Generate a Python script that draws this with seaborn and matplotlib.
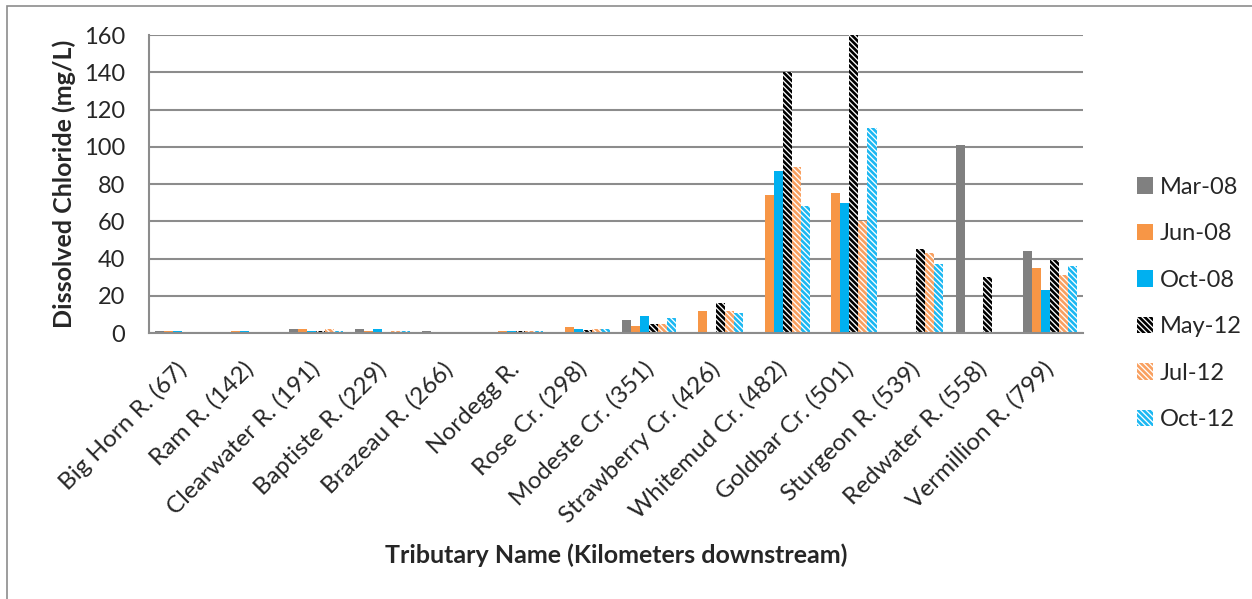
import numpy as np
import pandas as pd
import matplotlib
matplotlib.use("Agg")
import matplotlib.pyplot as plt
import matplotlib.transforms as mtransforms
from matplotlib.patches import Patch, Rectangle
import seaborn as sns

tributaries = ["Big Horn R. (67)", "Ram R. (142)", "Clearwater R. (191)",
               "Baptiste R. (229)", "Brazeau R. (266)", "Nordegg R.",
               "Rose Cr. (298)", "Modeste Cr. (351)", "Strawberry Cr. (426)",
               "Whitemud Cr. (482)", "Goldbar Cr. (501)", "Sturgeon R. (539)",
               "Redwater R. (558)", "Vermillion R. (799)"]
nan = np.nan
mar_08 = [1, 0.8, 2, 2, 1, nan, nan, 7, nan, nan, nan, nan, 101, 44]
jun_08 = [1, 1, 2, 1, nan, 1, 3, 4, 12, 74, 75, nan, nan, 35]
oct_08 = [1, 1, 1, 2, nan, 1, 2, 9, nan, 87, 70, nan, nan, 23]
may_12 = [0.8, 0.8, 1, 0.5, 0.5, 1, 1.5, 5, 16, 140, 160, 45, 30, 39]
jul_12 = [0.8, 0.8, 2, 1, 0.5, 1, 2, 5, 12, 89, 60, 43, nan, 31]
oct_12 = [0.6, 0.8, 1, 1.3, 0.5, 1, 2, 8, 11, 68, 110, 37, nan, 36]
dates = ["Mar-08", "Jun-08", "Oct-08", "May-12", "Jul-12", "Oct-12"]

series = [mar_08, jun_08, oct_08, may_12, jul_12, oct_12]
df = pd.DataFrame({"Tributary": np.repeat([tributaries], len(dates), axis=0).ravel(),
                   "Date": np.repeat(dates, len(tributaries)),
                   "Chloride": np.concatenate(series)})
df = df.dropna()

# bar styles: (face, hatch colour, hatch)
hatch = "\\" * 6
styles = {
    "Mar-08": ("#808080", "#808080", None),
    "Jun-08": ("#F79646", "#F79646", None),
    "Oct-08": ("#00B0F0", "#00B0F0", None),
    "May-12": ("white", "black", hatch),
    "Jul-12": ("white", "#F9A060", hatch),
    "Oct-12": ("white", "#1CB8F2", hatch),
}

plt.rcParams["hatch.linewidth"] = 1.9
sns.set_style("white")
plt.rcParams["font.family"] = ["Lato", "DejaVu Sans"]

fig = plt.figure(figsize=(12.52, 5.99), dpi=100)
ax = fig.add_axes([0.119, 0.444, 0.746, 0.4975])

sns.barplot(data=df, x="Tributary", y="Chloride", hue="Date",
            order=tributaries, hue_order=dates, width=0.81,
            palette=[styles[d][0] for d in dates], saturation=1,
            legend=False, ax=ax)

for cont, d in zip(ax.containers, dates):
    face, hcol, h = styles[d]
    for bar in cont:
        bar.set_facecolor(face)
        bar.set_edgecolor(hcol)
        bar.set_linewidth(0)
        if h:
            bar.set_hatch(h)

grid_col = "#8C8C8C"
ax.set_ylim(0, 160)
ax.set_yticks(np.arange(0, 161, 20))
ax.set_xlim(-0.5, len(tributaries) - 0.5)
ax.yaxis.grid(True, color=grid_col, linewidth=1.5)
ax.set_axisbelow(True)
for s in ["top", "right"]:
    ax.spines[s].set_visible(False)
for s in ["left", "bottom"]:
    ax.spines[s].set_color(grid_col)
    ax.spines[s].set_linewidth(1.5)

ax.set_xticks(np.arange(-0.5, len(tributaries)), minor=True)
ax.tick_params(axis="x", which="major", length=0, pad=0, labelsize=17.5)
ax.tick_params(axis="x", which="minor", length=7, width=1.5, color=grid_col, direction="out")
ax.tick_params(axis="y", length=5, width=1.5, color=grid_col, direction="out", labelsize=17, pad=12)
ax.set_xticklabels(tributaries, rotation=45, ha="right", va="top", rotation_mode="anchor")
offset = mtransforms.ScaledTranslation(-0.07, -0.25, fig.dpi_scale_trans)
for lbl in ax.get_xticklabels():
    lbl.set_transform(lbl.get_transform() + offset)

ax.set_xlabel("Tributary Name (Kilometers downstream)", fontsize=18, fontweight="bold", labelpad=12)
ax.set_ylabel("Dissolved Chloride (mg/L)", fontsize=18, fontweight="bold", labelpad=6)

handles = []
for d in dates:
    face, hcol, h = styles[d]
    handles.append(Patch(facecolor=face, edgecolor=hcol, linewidth=0, hatch=h, label=d))
fig.legend(handles=handles, loc="center left", bbox_to_anchor=(1125 / 1252, 1 - 303.5 / 599),
           frameon=False, borderpad=0, fontsize=17, handlelength=0.68, handleheight=0.68,
           handletextpad=0.3, labelspacing=1.08)

# outer chart border (only left/top edges fall inside the image)
fig.patches.append(Rectangle((7 / 1252, -0.5), 2.0, 1.5 - 6 / 599, transform=fig.transFigure,
                             fill=False, edgecolor="#8C8C8C", linewidth=1.2))

fig.savefig("out.png", dpi=100)
